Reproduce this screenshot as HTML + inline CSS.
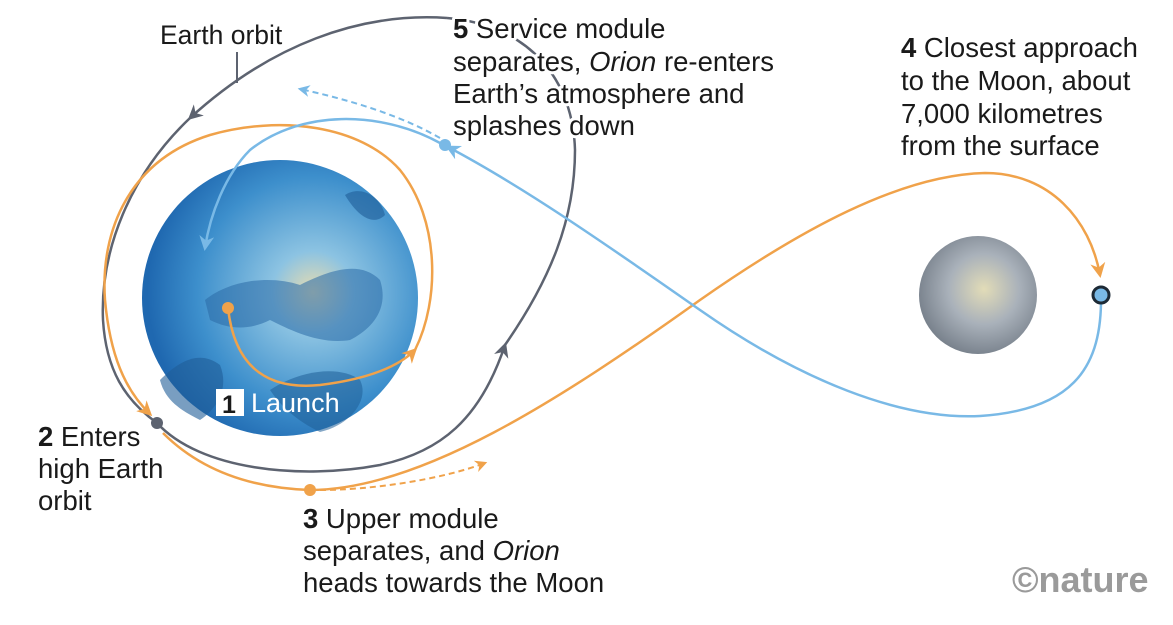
<!DOCTYPE html>
<html><head><meta charset="utf-8"><style>
html,body{margin:0;padding:0;background:#fff;}
svg{display:block;}
text{font-family:"Liberation Sans",sans-serif;fill:#1a1a1a;}
.halo{paint-order:stroke;stroke:#fff;stroke-width:6px;stroke-linejoin:round;}
</style></head><body>
<svg width="1173" height="625" viewBox="0 0 1173 625" xmlns="http://www.w3.org/2000/svg">
<defs>
<radialGradient id="eg" cx="0.62" cy="0.48" r="0.6">
<stop offset="0" stop-color="#e8dcb0"/><stop offset="0.25" stop-color="#8cc3e2"/><stop offset="0.7" stop-color="#3d8fcc"/><stop offset="1" stop-color="#1f68b0"/>
</radialGradient>
<radialGradient id="mg" cx="0.55" cy="0.45" r="0.6">
<stop offset="0" stop-color="#e2dcb8"/><stop offset="0.5" stop-color="#a9b1ba"/><stop offset="1" stop-color="#737c87"/>
</radialGradient>
<marker id="ao" viewBox="0 0 10 10" refX="8" refY="5" markerWidth="6" markerHeight="6" orient="auto"><path d="M0,0 L10,5 L0,10 L3,5z" fill="#f0a24a"/></marker>
<marker id="ab" viewBox="0 0 10 10" refX="8" refY="5" markerWidth="6" markerHeight="6" orient="auto"><path d="M0,0 L10,5 L0,10 L3,5z" fill="#79b9e6"/></marker>
<marker id="ag" viewBox="0 0 10 10" refX="8" refY="5" markerWidth="6" markerHeight="6" orient="auto"><path d="M0,0 L10,5 L0,10 L3,5z" fill="#5d6370"/></marker>
</defs>
<!-- Earth -->
<circle cx="280" cy="298" r="138" fill="url(#eg)"/>
<path d="M205,300 C230,280 270,275 300,285 C330,270 360,260 380,280 C390,310 370,330 350,340 C320,345 290,330 270,320 C250,330 230,330 210,320z" fill="#2a6aa6" opacity="0.55"/>
<path d="M160,380 C180,360 200,350 220,365 C230,390 215,410 200,420 C180,410 165,400 160,380z" fill="#1f5e98" opacity="0.6"/>
<path d="M270,390 C300,370 340,365 360,380 C370,400 350,425 320,432 C295,420 280,405 270,390z" fill="#1f5e98" opacity="0.55"/>
<path d="M345,195 C360,185 380,195 385,215 C375,225 360,220 345,195z" fill="#1f5e98" opacity="0.6"/>
<!-- Moon -->
<circle cx="978" cy="295" r="59" fill="url(#mg)"/>
<!-- Gray orbit -->
<path d="M157,423 C200,470 300,480 380,465 C440,452 480,420 505,345" fill="none" stroke="#5d6370" stroke-width="2.5" marker-end="url(#ag)"/>
<path d="M505,345 C550,280 575,220 575,150 C573,80 530,25 447,18" fill="none" stroke="#5d6370" stroke-width="2.5"/>
<path d="M447,18 C360,12 270,45 190,118" fill="none" stroke="#5d6370" stroke-width="2.5" marker-end="url(#ag)"/>
<path d="M190,118 C130,175 100,250 103,320 C106,370 125,400 157,423" fill="none" stroke="#5d6370" stroke-width="2.5"/>
<line x1="237" y1="52" x2="237" y2="83" stroke="#5d6370" stroke-width="2"/>
<!-- Orange -->
<path d="M228,308 C235,370 270,390 320,385 C360,380 395,370 415,350" fill="none" stroke="#f0a24a" stroke-width="2.5" marker-end="url(#ao)"/>
<path d="M415,350 C440,300 440,220 400,170 C360,125 280,115 210,135 C130,160 100,230 105,300 C110,355 125,390 150,414" fill="none" stroke="#f0a24a" stroke-width="2.5" marker-end="url(#ao)"/>
<path d="M163,433 C200,470 250,488 310,490 C420,490 560,400 700,300 C800,230 900,175 985,173 C1050,173 1090,220 1100,275" fill="none" stroke="#f0a24a" stroke-width="2.5" marker-end="url(#ao)"/>
<path d="M320,490 C370,490 440,480 485,463" fill="none" stroke="#f0a24a" stroke-width="2" stroke-dasharray="6,4" marker-end="url(#ao)"/>
<!-- Blue -->
<path d="M1101,303 C1100,370 1070,410 980,416 C900,420 800,380 700,310 C600,240 520,185 448,147" fill="none" stroke="#79b9e6" stroke-width="2.5" marker-end="url(#ab)"/>
<path d="M440,143 C380,110 300,110 250,150 C225,175 210,215 205,248" fill="none" stroke="#79b9e6" stroke-width="2.5" marker-end="url(#ab)"/>
<path d="M440,138 C400,115 350,100 300,89" fill="none" stroke="#79b9e6" stroke-width="2" stroke-dasharray="6,4" marker-end="url(#ab)"/>
<!-- Dots -->
<circle cx="228" cy="308" r="6" fill="#f0a24a"/>
<circle cx="157" cy="423" r="6" fill="#5d6370"/>
<circle cx="310" cy="490" r="6" fill="#f0a24a"/>
<circle cx="445" cy="145" r="6" fill="#79b9e6"/>
<circle cx="1101" cy="295" r="8" fill="#79b9e6" stroke="#1d2a36" stroke-width="3"/>
<!-- Launch label -->
<rect x="216" y="389" width="28" height="27" fill="#fff"/>
<text x="222" y="413" font-size="25" font-weight="bold">1</text>
<text x="251" y="412" font-size="27" style="fill:#fff">Launch</text>
<!-- Labels -->
<text x="160" y="44" font-size="26.5" class="halo">Earth orbit</text>
<g font-size="27.5" class="halo">
<text x="453" y="38"><tspan font-weight="bold">5</tspan> Service module</text>
<text x="453" y="71">separates, <tspan font-style="italic">Orion</tspan> re-enters</text>
<text x="453" y="103">Earth’s atmosphere and</text>
<text x="453" y="135">splashes down</text>
<text x="901" y="57"><tspan font-weight="bold">4</tspan> Closest approach</text>
<text x="901" y="90">to the Moon, about</text>
<text x="901" y="123">7,000 kilometres</text>
<text x="901" y="155">from the surface</text>
<text x="38" y="446"><tspan font-weight="bold">2</tspan> Enters</text>
<text x="38" y="478">high Earth</text>
<text x="38" y="510">orbit</text>
<text x="303" y="528"><tspan font-weight="bold">3</tspan> Upper module</text>
<text x="303" y="560">separates, and <tspan font-style="italic">Orion</tspan></text>
<text x="303" y="592">heads towards the Moon</text>
</g>
<text x="1012" y="592" font-size="36" font-weight="bold" style="fill:#9a9a9a">©nature</text>
</svg>
</body></html>
